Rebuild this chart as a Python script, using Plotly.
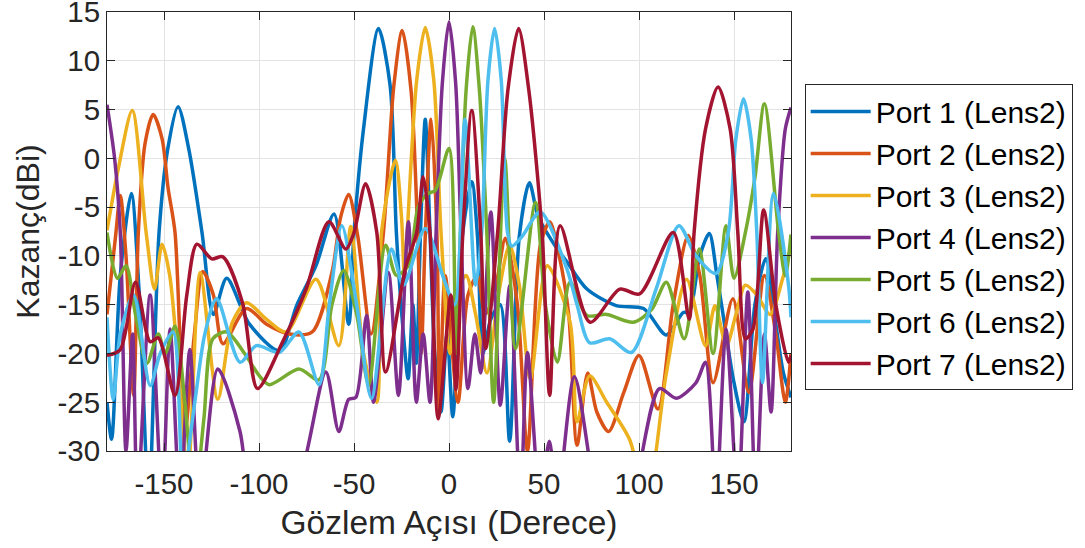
import plotly.graph_objects as go

# Gain patterns (angle in degrees, gain in dBi)
ang1 = [-180, -177.6, -173, -167.2, -163, -158, -152.6, -148, -142.6, -137, -130, -124, -117, -105, -89.3, -80, -70, -60.5,
        -52.8, -50, -45, -37.1, -31, -27.7, -24, -21.5, -19, -17.2, -15, -12.5, -10, -7.5, -4.2, -1, 2, 7, 12, 15, 17.8,
        22, 27, 31.9, 37, 42.3, 47, 57, 62, 72.6, 88, 102.4, 114.4, 123.3, 126.4, 132, 137, 141, 145.8, 150, 155.2, 161,
        166.7, 172, 176, 180]
gain1 = [-25, -28.8, -12, -3.6, -14, -35, -7.6, 1, 5.3, 1, -7.6, -16, -12.3, -17, -19.7, -15, -11, -5.7,
         -17, -7.6, 3, 13.3, 7.5, -7.6, -18, -22.6, -15, -21, -7.6, 4, -7.6, -20, -26, -18, -26.5, -8, -2.4, -8, -20,
         -16.5, -15, -29, -8, -2.5, -6, -9.3, -10.6, -13.4, -15.1, -15.4, -18.1, -15.8, -15.8, -10, -7.7, -12, -18, -23,
         -27, -15, -10.3, -17, -22, -24.5]

ang2 = [-180, -175.5, -173, -170, -166, -163.5, -160, -155.7, -151, -147.9, -144.2, -139, -134, -129.6, -124, -119,
        -106.6, -96, -84, -72, -61.6, -57, -52.8, -48, -41, -34.5, -29, -24.6, -20, -16.5, -14.6, -12.5, -9.4, -6.3,
        -5, -2, 4.7, 10, 15, 19, 24, 29.7, 36, 41.3, 48, 53, 58, 63, 67.4, 73, 77.8, 84, 92, 100, 110, 118, 126, 132,
        139, 149.4, 157.8, 166, 172, 177, 180]
gain2 = [-16, -8, -3.8, -10, -24.3, -7.6, 1.5, 4.5, 2, -3, -7.6, -28, -18, -11.6, -14, -19,
         -15.4, -17, -18, -17.8, -11.7, -6, -3.7, -8, -18, -7.6, 7.5, 13.1, 7, -7.6, -20, -8, 4, -8,
         -26, -12, -25, -14, -12, -16, -13.7, -8.2, -15, -30, -9, -6.5, -10, -16, -29.4, -22, -26, -28, -24, -20.2,
         -25.7, -15, -7.9, -12, -23, -14.4, -24, -12, -18, -25, -20]

ang3 = [-180, -174, -166.7, -159.4, -155, -151, -147, -143, -137.4, -131, -121.7, -114, -106.6, -96, -85.7, -70, -58,
        -51.7, -45, -38, -35.5, -28.2, -25, -23.5, -22, -17, -12.5, -8, -4.2, 0.5, 4, 9, 14, 20, 26, 31.9, 37, 42.8,
        51.7, 63.7, 67.4, 74, 83, 95, 104, 114.4, 125, 135, 140, 146, 151, 156, 162, 169, 175.5, 180]
gain3 = [-7.4, -1, 4.9, -7.6, -13.4, -8.8, -12, -20, -32, -11.7, -24.7, -16.8, -14.8, -16.5, -17.8, -12.4, -19.2,
         -7, -20, -25, -7.6, -0.2, -6, -12, -7.6, 8, 13.4, 8, -7.6, -20, -14, -12, -16, -22, -14, -8.9, -13, -22.6,
         -11, -16.8, -27, -22.3, -25, -28.8, -35, -22, -12.4, -19.2, -15.1, -19.2, -16, -13, -14, -16, -12.4, -9]

ang4 = [-180, -176, -173, -170, -166.5, -164, -157.3, -151, -146.8, -141.6, -136.4, -131, -121.7, -110, -105, -94.6,
        -77.3, -64.8, -58, -52.8, -49, -43.4, -39.7, -31.9, -26.6, -21.4, -17.2, -13.6, -10, -6.8, -3.5, 0, 3.5, 6.3,
        10, 13.6, 16.7, 22, 27, 32, 37.6, 41.3, 48, 52.8, 57, 66, 77.8, 88, 98.7, 110.8, 119.6, 130, 135, 140.5, 145.8,
        152, 157.3, 161.4, 166, 169.5, 173, 177, 180]
gain4 = [5.5, 0, -7.6, -30, -18, -35, -14, -35, -17.5, -35, -19.6, -35, -21.6, -28, -35, -40,
         -32, -21.9, -28, -24.7, -24.5, -16.1, -25, -11.7, -24.3, -6.5, -25, -18, -25, -7.6, 7.7, 14, 7.7, -7.6,
         -23.6, -18, -22, -5.5, -25.3, -13, -35, -19.9, -35, -29, -35, -22.4, -35, -40, -33, -23.6, -24.6, -23, -20.9,
         -35, -17.5, -35, -13.7, -35, -18, -26, -7.6, 3, 5.2]

ang5 = [-180, -174.5, -170, -165, -159, -153, -149.4, -144.2, -139, -134, -129, -124.3, -117, -107.6, -99.8, -94.6,
        -79, -68.4, -61.6, -55.4, -48.6, -42.3, -33.4, -27.7, -21.4, -16.2, -11, -7.3, 0, 3.7, 6, 9, 12.5, 16, 19.9,
        23.5, 29.3, 35, 45.5, 50.7, 57, 63.7, 72.6, 83, 97, 106.6, 114.4, 123.8, 131.7, 139, 145.8, 150, 156, 161, 166,
        173.5, 177, 180]
gain5 = [-7.6, -12.3, -11, -16, -21, -18, -20, -17.2, -25, -35, -26.7, -18.5, -17.8, -20, -22.3, -23.2,
         -21.6, -22.7, -15, -11.5, -16, -23.2, -8.9, -12, -11, -5, -3.6, -3.3, 1, -20, -7.6, 7, 13.5, 7, -7.6,
         -25, 0, -19.5, -4.5, -15, -20.9, -12.7, -16.1, -16, -16.8, -15.5, -12.7, -18.5, -9.3, -20, -6.9, -12.3, -7.6,
         -2, 5.6, -7.6, -12, -7.8]

ang6 = [-180, -176.7, -173, -166, -157.3, -152, -145.2, -140, -133.8, -128.5, -122.3, -110, -101.4, -89.3, -79,
        -68.4, -63, -56.4, -48.6, -40.8, -30.3, -24, -12.5, -3, 3, 8.4, 14, 17.2, 20.5, 24, 27.5, 30.8, 33, 38.5, 48,
        62, 67.4, 74, 84.6, 96, 109, 121, 130, 140.5, 147, 151, 155, 159, 162, 165, 170.8, 178.7, 180]
gain6 = [-16.3, -24.7, -18, -14, -23.3, -20, -17.8, -33, -25, -18, -14.4, -20.9, -19.2, -19.9, -17.8,
         -23.2, -15, -6.9, -15, -24.6, -9.3, -13, -7.2, -12.2, -15, 4, -13, -7.6, 8, 13.3, 8, -7.6, -9, -8, -5.5,
         -11.3, -15, -18.9, -18.5, -19.9, -13.4, -6.9, -10, -11.8, -7.6, 2, 6.1, 2, -7.6, -23, -3.6, -13, -16.3]

ang7 = [-180, -173, -165, -157.3, -153, -144.2, -138, -132.7, -124.9, -119, -108.7, -100.8, -87.8, -75.2, -63.2,
        -54.3, -50, -43.9, -38, -33.4, -23, -17, -13.6, -10, -5.7, 1, 3.7, 7.3, 12, 16.7, 19.3, 25.6, 31, 36.6, 42, 49,
        53, 58.5, 74.2, 89.9, 100.3, 118, 126.4, 129, 135, 141.6, 148, 152, 156, 160, 165.6, 172, 178.7, 180]
gain7 = [-20.2, -19.6, -12.7, -18.8, -18.4, -24.3, -14, -8.8, -10.3, -10.1, -14.8, -23.6, -18.9, -13.4, -6.5,
         -9.3, -7.6, -2.6, -7.6, -21.9, -11.3, -7.6, -1.9, -7.6, -26.7, -14, -23.7, -7.6, 4.9, -7.6, -19.5, -7.6, 7,
         13.3, 7, -7.6, -24.3, -6.9, -16.8, -13.4, -13.9, -7.6, -16.5, -7.6, 3, 7.3, 3, -7.6, -18.5, -17.5, -5.3, -15,
         -20.9, -20.2]

x_ticks = [-150, -100, -50, 0, 50, 100, 150]
y_ticks = [-30, -25, -20, -15, -10, -5, 0, 5, 10, 15]

ports = [
    ('Port 1 (Lens2)', ang1, gain1, '#0072BD'),
    ('Port 2 (Lens2)', ang2, gain2, '#D95319'),
    ('Port 3 (Lens2)', ang3, gain3, '#EDB120'),
    ('Port 4 (Lens2)', ang4, gain4, '#7E2F8E'),
    ('Port 5 (Lens2)', ang5, gain5, '#77AC30'),
    ('Port 6 (Lens2)', ang6, gain6, '#4DBEEE'),
    ('Port 7 (Lens2)', ang7, gain7, '#A2142F'),
]

fig = go.Figure()
for name, a, g, c in ports:
    fig.add_trace(go.Scatter(x=a, y=g, mode='lines', name=name,
                             line=dict(color=c, width=3.5, shape='spline', smoothing=0.8)))

axis_style = dict(showline=True, linecolor='#262626', linewidth=1, mirror='ticks',
                  ticks='inside', ticklen=8, tickcolor='#262626', automargin=False,
                  ticklabeloverflow='allow',
                  showgrid=True, gridcolor='#e3e3e3', gridwidth=1, zeroline=False,
                  tickfont=dict(size=29.5, color='#262626'))

fig.update_layout(
    width=1085, height=548, autosize=False,
    margin=dict(l=107, r=288, t=12, b=97),
    paper_bgcolor='white', plot_bgcolor='white',
    font=dict(family='Liberation Sans, Arial, sans-serif', color='#262626'),
    xaxis=dict(range=[-180, 180], tickvals=x_ticks, ticktext=[str(v) for v in x_ticks],
               ticklabelstandoff=7,
               title=dict(text='Gözlem Açısı (Derece)', font=dict(size=33.5), standoff=11), **axis_style),
    yaxis=dict(range=[-30, 15], tickvals=y_ticks, ticktext=[str(v) for v in y_ticks],
               title=dict(text='Kazanç(dBi)', font=dict(size=32), standoff=8), **axis_style),
    legend=dict(x=1.02, y=0.835, xanchor='left', yanchor='top',
                bordercolor='#262626', borderwidth=1, bgcolor='white',
                font=dict(size=30, color='black'), itemwidth=60, tracegroupgap=0),
)

# drop the default page margin so the 1085x548 figure fills the window
fig.write_html("out.html",
               config={'responsive': False, 'displayModeBar': False},
               post_script="document.body.style.margin='0';document.body.style.overflow='hidden';")
